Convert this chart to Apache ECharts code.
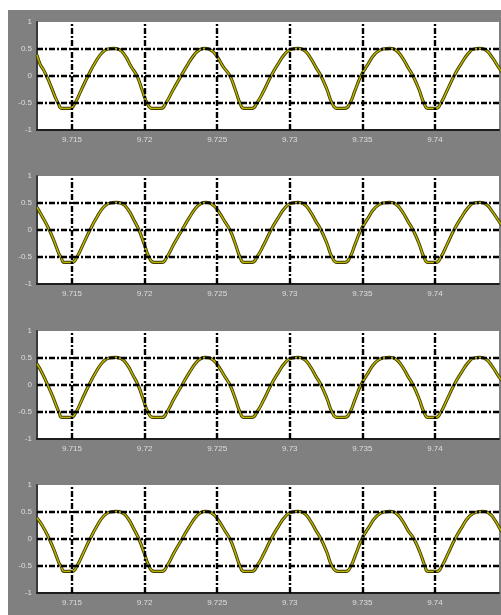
<!DOCTYPE html>
<html>
<head>
<meta charset="utf-8">
<script src="https://cdn.jsdelivr.net/npm/echarts@6/dist/echarts.min.js"></script>
<style>
  html, body { margin: 0; padding: 0; background: #ffffff; }
  #chart { width: 501px; height: 615px; }
</style>
</head>
<body>
<div id="chart"></div>
<script>
// Time window shown on every panel (s)
const X_MIN = 9.71259;
const X_MAX = 9.74441;

// Tick positions and their labels
const xTicks = [9.715, 9.72, 9.725, 9.73, 9.735, 9.74];
const xTickLabels = ['9.715', '9.72', '9.725', '9.73', '9.735', '9.74'];
const yTicks = [-1, -0.5, 0, 0.5, 1];
const yTickLabels = ['-1', '-0.5', '0', '0.5', '1'];
const yGridLines = [-0.5, 0, 0.5];

// Panel 1
const t1 = [9.71259, 9.71280, 9.71307, 9.71349, 9.71383, 9.71404, 9.71431, 9.71486, 9.71521, 9.71562,
  9.71610, 9.71658, 9.71707, 9.71748, 9.71782, 9.71824, 9.71865, 9.71906, 9.71948, 9.71982,
  9.72017, 9.72051, 9.72113, 9.72147, 9.72196, 9.72251, 9.72299, 9.72347, 9.72382, 9.72416,
  9.72457, 9.72499, 9.72540, 9.72588, 9.72623, 9.72657, 9.72685, 9.72740, 9.72774, 9.72822,
  9.72871, 9.72919, 9.72967, 9.73015, 9.73057, 9.73098, 9.73139, 9.73180, 9.73215, 9.73256,
  9.73291, 9.73325, 9.73380, 9.73415, 9.73449, 9.73490, 9.73539, 9.73587, 9.73642, 9.73690,
  9.73731, 9.73773, 9.73814, 9.73849, 9.73890, 9.73924, 9.73952, 9.74007, 9.74041, 9.74083,
  9.74131, 9.74179, 9.74227, 9.74269, 9.74310, 9.74351, 9.74393, 9.74441, 9.74489];
const v1 = [0.39, 0.22, 0.10, -0.15, -0.38, -0.50, -0.60, -0.60, -0.50, -0.27,
  0.00, 0.24, 0.43, 0.50, 0.51, 0.49, 0.38, 0.18, 0.00, -0.25,
  -0.50, -0.60, -0.60, -0.50, -0.26, 0.00, 0.22, 0.41, 0.49, 0.51,
  0.48, 0.36, 0.18, 0.00, -0.24, -0.50, -0.60, -0.60, -0.50, -0.27,
  0.00, 0.22, 0.41, 0.50, 0.51, 0.48, 0.35, 0.16, 0.00, -0.25,
  -0.50, -0.60, -0.60, -0.50, -0.27, 0.00, 0.22, 0.41, 0.50, 0.51,
  0.48, 0.35, 0.16, 0.00, -0.25, -0.50, -0.60, -0.60, -0.50, -0.27,
  0.00, 0.22, 0.41, 0.50, 0.51, 0.48, 0.35, 0.15, -0.02];

// Panel 2
const t2 = [9.71259, 9.71293, 9.71335, 9.71376, 9.71410, 9.71424, 9.71445, 9.71500, 9.71534, 9.71576,
  9.71624, 9.71672, 9.71720, 9.71762, 9.71803, 9.71844, 9.71886, 9.71927, 9.71961, 9.71996,
  9.72030, 9.72065, 9.72120, 9.72154, 9.72202, 9.72258, 9.72306, 9.72354, 9.72388, 9.72423,
  9.72464, 9.72505, 9.72547, 9.72588, 9.72623, 9.72657, 9.72685, 9.72740, 9.72774, 9.72822,
  9.72871, 9.72919, 9.72967, 9.73015, 9.73057, 9.73098, 9.73139, 9.73180, 9.73215, 9.73256,
  9.73291, 9.73325, 9.73380, 9.73415, 9.73449, 9.73490, 9.73539, 9.73587, 9.73642, 9.73690,
  9.73731, 9.73773, 9.73814, 9.73849, 9.73890, 9.73924, 9.73952, 9.74007, 9.74041, 9.74083,
  9.74131, 9.74179, 9.74227, 9.74269, 9.74310, 9.74351, 9.74393, 9.74441, 9.74489];
const v2 = [0.42, 0.26, 0.05, -0.20, -0.44, -0.50, -0.60, -0.60, -0.50, -0.27,
  0.00, 0.24, 0.43, 0.50, 0.51, 0.49, 0.38, 0.18, 0.00, -0.25,
  -0.50, -0.60, -0.60, -0.50, -0.26, 0.00, 0.22, 0.41, 0.49, 0.51,
  0.48, 0.36, 0.18, 0.00, -0.24, -0.50, -0.60, -0.60, -0.50, -0.27,
  0.00, 0.22, 0.41, 0.50, 0.51, 0.48, 0.35, 0.16, 0.00, -0.25,
  -0.50, -0.60, -0.60, -0.50, -0.27, 0.00, 0.22, 0.41, 0.50, 0.51,
  0.48, 0.35, 0.16, 0.00, -0.25, -0.50, -0.60, -0.60, -0.50, -0.27,
  0.00, 0.22, 0.41, 0.50, 0.51, 0.48, 0.35, 0.16, -0.01];

// Panel 3
const t3 = [9.71259, 9.71287, 9.71321, 9.71362, 9.71397, 9.71410, 9.71431, 9.71493, 9.71528, 9.71569,
  9.71617, 9.71665, 9.71714, 9.71755, 9.71796, 9.71837, 9.71879, 9.71920, 9.71955, 9.71989,
  9.72023, 9.72058, 9.72120, 9.72154, 9.72202, 9.72258, 9.72306, 9.72354, 9.72388, 9.72423,
  9.72464, 9.72505, 9.72547, 9.72588, 9.72623, 9.72657, 9.72685, 9.72740, 9.72774, 9.72822,
  9.72871, 9.72919, 9.72967, 9.73015, 9.73057, 9.73098, 9.73139, 9.73180, 9.73215, 9.73256,
  9.73291, 9.73325, 9.73380, 9.73415, 9.73449, 9.73490, 9.73539, 9.73587, 9.73642, 9.73690,
  9.73731, 9.73773, 9.73814, 9.73849, 9.73890, 9.73924, 9.73952, 9.74007, 9.74041, 9.74083,
  9.74131, 9.74179, 9.74227, 9.74269, 9.74310, 9.74351, 9.74393, 9.74441, 9.74489];
const v3 = [0.39, 0.26, 0.07, -0.18, -0.42, -0.50, -0.60, -0.60, -0.50, -0.27,
  0.00, 0.24, 0.43, 0.50, 0.51, 0.49, 0.38, 0.18, 0.00, -0.25,
  -0.50, -0.60, -0.60, -0.50, -0.26, 0.00, 0.22, 0.41, 0.49, 0.51,
  0.48, 0.36, 0.18, 0.00, -0.24, -0.50, -0.60, -0.60, -0.50, -0.27,
  0.00, 0.22, 0.41, 0.50, 0.51, 0.48, 0.35, 0.16, 0.00, -0.25,
  -0.50, -0.60, -0.60, -0.50, -0.27, 0.00, 0.22, 0.41, 0.50, 0.51,
  0.48, 0.35, 0.16, 0.00, -0.25, -0.50, -0.60, -0.60, -0.50, -0.27,
  0.00, 0.22, 0.41, 0.50, 0.51, 0.48, 0.35, 0.15, -0.02];

// Panel 4
const t4 = [9.71259, 9.71293, 9.71335, 9.71376, 9.71410, 9.71424, 9.71445, 9.71500, 9.71534, 9.71576,
  9.71624, 9.71672, 9.71720, 9.71762, 9.71803, 9.71844, 9.71886, 9.71927, 9.71961, 9.71996,
  9.72030, 9.72065, 9.72120, 9.72154, 9.72202, 9.72258, 9.72306, 9.72354, 9.72388, 9.72423,
  9.72464, 9.72505, 9.72547, 9.72588, 9.72623, 9.72657, 9.72685, 9.72740, 9.72774, 9.72822,
  9.72871, 9.72919, 9.72967, 9.73015, 9.73057, 9.73098, 9.73139, 9.73180, 9.73215, 9.73256,
  9.73291, 9.73332, 9.73387, 9.73421, 9.73456, 9.73497, 9.73545, 9.73594, 9.73649, 9.73690,
  9.73731, 9.73773, 9.73814, 9.73855, 9.73897, 9.73931, 9.73952, 9.74014, 9.74048, 9.74090,
  9.74138, 9.74186, 9.74234, 9.74289, 9.74331, 9.74372, 9.74413, 9.74441, 9.74489];
const v4 = [0.39, 0.26, 0.05, -0.20, -0.44, -0.50, -0.60, -0.60, -0.50, -0.27,
  0.00, 0.24, 0.43, 0.50, 0.51, 0.49, 0.38, 0.18, 0.00, -0.25,
  -0.50, -0.60, -0.60, -0.50, -0.26, 0.00, 0.22, 0.41, 0.49, 0.51,
  0.48, 0.36, 0.18, 0.00, -0.24, -0.50, -0.60, -0.60, -0.50, -0.27,
  0.00, 0.22, 0.41, 0.50, 0.51, 0.48, 0.35, 0.16, 0.00, -0.25,
  -0.50, -0.60, -0.60, -0.50, -0.27, 0.00, 0.22, 0.41, 0.50, 0.51,
  0.48, 0.35, 0.16, 0.00, -0.25, -0.50, -0.60, -0.60, -0.50, -0.27,
  0.00, 0.22, 0.41, 0.50, 0.51, 0.48, 0.35, 0.22, 0.02];

const panels = [[t1, v1], [t2, v2], [t3, v3], [t4, v4]];
const panelTops = [22, 176, 331, 485];
const PANEL_H = 108;
const Y_MIN = -1, Y_MAX = 1;

const LABEL_COLOR = '#dedede';
const AXIS_COLOR = '#1e1e1e';
const FONT = '"Liberation Sans", Arial, sans-serif';

function nearestLabel(v, ticks, labels) {
  let best = 0;
  for (let i = 1; i < ticks.length; i++) {
    if (Math.abs(ticks[i] - v) < Math.abs(ticks[best] - v)) best = i;
  }
  return labels[best];
}

// grid lines as coordinate segments spanning the panel
const gridSegments = xTicks.map(x => [{ coord: [x, Y_MIN] }, { coord: [x, Y_MAX] }])
  .concat(yGridLines.map(y => [{ coord: [X_MIN, y] }, { coord: [X_MAX, y] }]));

const grid = [], xAxis = [], yAxis = [], series = [];

panels.forEach(([t, v], i) => {
  const data = t.map((x, k) => [x, v[k]]);
  grid.push({
    left: 37, right: 2, top: panelTops[i], height: PANEL_H,
    show: true, backgroundColor: '#ffffff', borderWidth: 0
  });
  xAxis.push({
    type: 'value', gridIndex: i, min: X_MIN, max: X_MAX,
    axisLine: { onZero: false, lineStyle: { color: AXIS_COLOR, width: 2 } },
    axisTick: { show: false },
    splitLine: { show: false },
    axisLabel: {
      customValues: xTicks,
      formatter: (val) => nearestLabel(val, xTicks, xTickLabels),
      color: LABEL_COLOR, fontSize: 8, fontFamily: FONT, margin: 6
    }
  });
  yAxis.push({
    type: 'value', gridIndex: i, min: Y_MIN, max: Y_MAX, interval: 0.5,
    axisLine: { show: true, lineStyle: { color: '#3a3a3a', width: 2 } },
    axisTick: { show: false },
    splitLine: { show: false },
    axisLabel: {
      formatter: (val) => nearestLabel(val, yTicks, yTickLabels),
      color: LABEL_COLOR, fontSize: 8, fontFamily: FONT, margin: 5
    }
  });
  // dash-dot grid lines at the ticks
  series.push({
    type: 'line', xAxisIndex: i, yAxisIndex: i, data: [], silent: true, z: 1,
    markLine: {
      silent: true, symbol: ['none', 'none'], label: { show: false },
      animation: false, precision: 5,
      lineStyle: { color: '#000000', width: 2.4, type: [6, 2, 2, 2] },
      data: gridSegments
    }
  });
  // dark edge of the trace
  series.push({
    type: 'line', xAxisIndex: i, yAxisIndex: i, data, z: 3,
    smooth: 0.5, showSymbol: false, silent: true,
    lineStyle: { color: '#403e00', width: 3.2 }
  });
  // yellow core of the trace
  series.push({
    type: 'line', xAxisIndex: i, yAxisIndex: i, data, z: 4,
    smooth: 0.5, showSymbol: false, silent: true,
    lineStyle: { color: '#bdb500', width: 1.4 }
  });
});

const chart = echarts.init(document.getElementById('chart'), null, { renderer: 'canvas' });
chart.setOption({
  animation: false,
  backgroundColor: '#ffffff',
  graphic: [{
    type: 'rect', z: -10, silent: true,
    shape: { x: 8, y: 10, width: 493, height: 605 },
    style: { fill: '#808080' }
  }],
  grid, xAxis, yAxis, series
});
</script>
</body>
</html>
